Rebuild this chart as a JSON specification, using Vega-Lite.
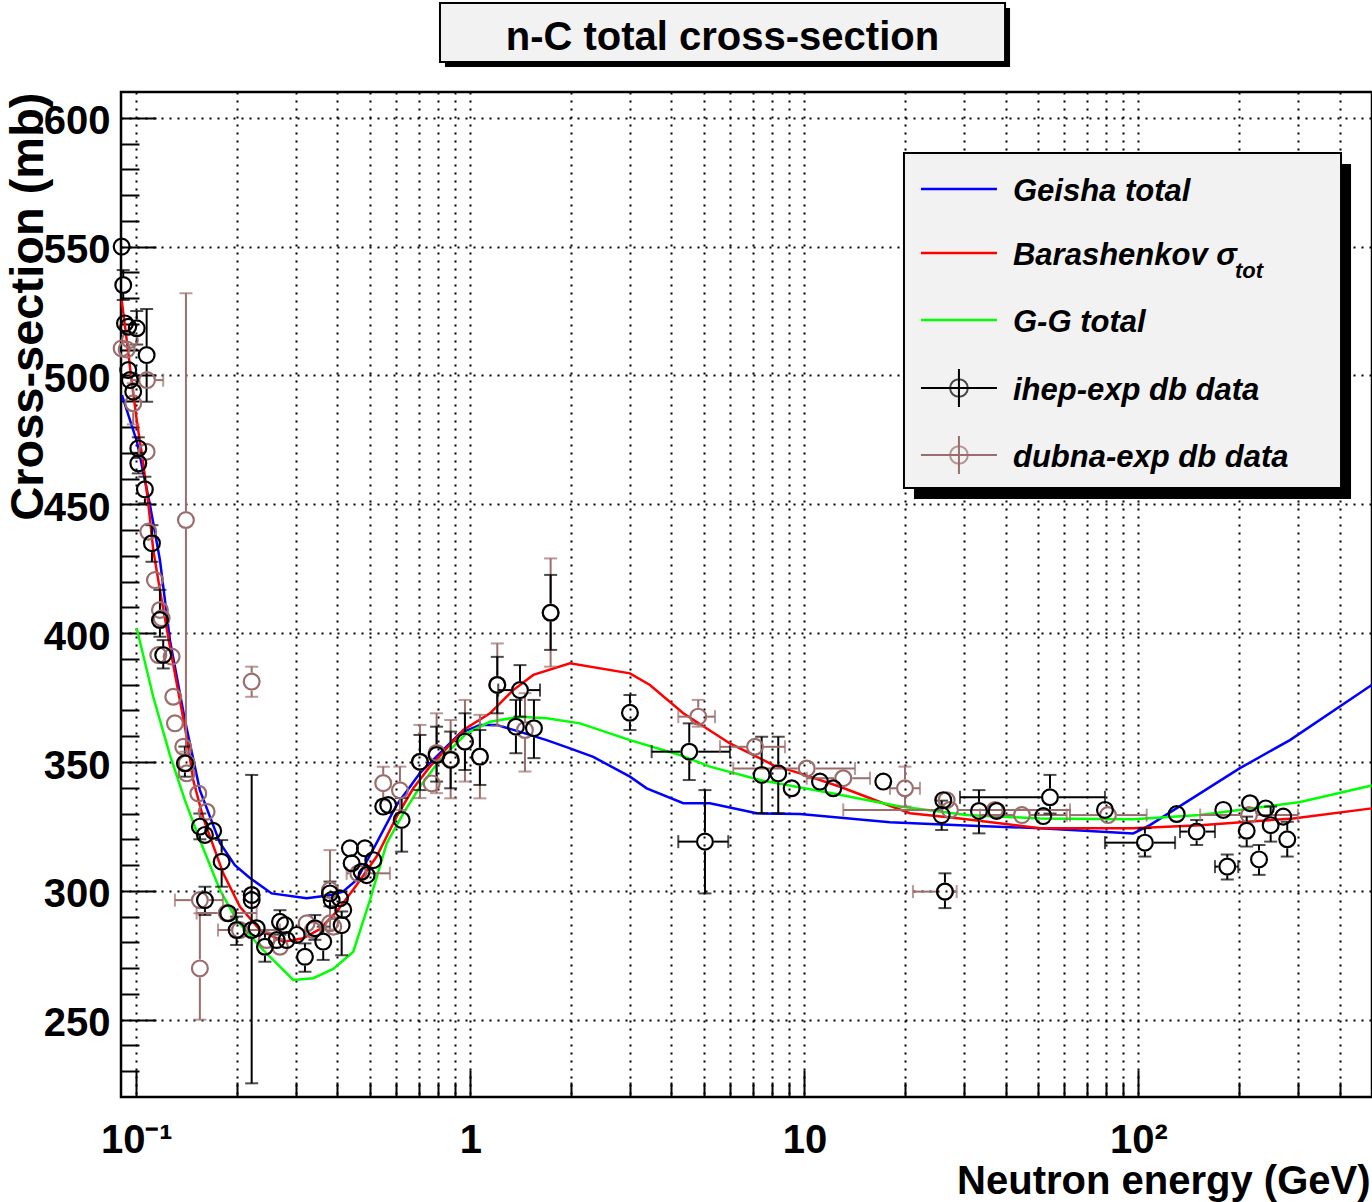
{
  "$schema": "https://vega.github.io/schema/vega-lite/v6.json",
  "width": 1251,
  "height": 1005,
  "autosize": {"type": "none"},
  "padding": {"left": 121, "top": 92, "right": 0, "bottom": 105},
  "background": "white",
  "config": {
    "font": "Liberation Sans",
    "view": {"stroke": "black", "strokeWidth": 2.5}
  },
  "datasets": {
    "d": [
      {"s":"Geisha total","e":0.0906,"v":492.4},{"s":"Geisha total","e":0.1005,"v":474.2},{"s":"Geisha total","e":0.1099,"v":449.7},{"s":"Geisha total","e":0.1177,"v":428.4},{"s":"Geisha total","e":0.1261,"v":397.3},{"s":"Geisha total","e":0.1398,"v":366.3},{"s":"Geisha total","e":0.155,"v":339.1},{"s":"Geisha total","e":0.178,"v":318.6},{"s":"Geisha total","e":0.1973,"v":310.0},{"s":"Geisha total","e":0.2188,"v":305.0},{"s":"Geisha total","e":0.2542,"v":299.0},{"s":"Geisha total","e":0.3236,"v":297.1},{"s":"Geisha total","e":0.3844,"v":298.4},{"s":"Geisha total","e":0.4155,"v":299.7},{"s":"Geisha total","e":0.4566,"v":304.2},{"s":"Geisha total","e":0.5241,"v":318.6},{"s":"Geisha total","e":0.6016,"v":333.3},{"s":"Geisha total","e":0.6596,"v":340.4},{"s":"Geisha total","e":0.7065,"v":345.7},{"s":"Geisha total","e":0.8109,"v":353.4},{"s":"Geisha total","e":0.9309,"v":361.1},{"s":"Geisha total","e":1.068,"v":364.4},{"s":"Geisha total","e":1.198,"v":364.4},{"s":"Geisha total","e":1.408,"v":361.7},{"s":"Geisha total","e":1.692,"v":358.5},{"s":"Geisha total","e":1.987,"v":355.3},{"s":"Geisha total","e":2.333,"v":352.0},{"s":"Geisha total","e":3.004,"v":344.3},{"s":"Geisha total","e":3.372,"v":339.8},{"s":"Geisha total","e":4.339,"v":334.0},{"s":"Geisha total","e":5.214,"v":334.0},{"s":"Geisha total","e":7.194,"v":330.1},{"s":"Geisha total","e":9.696,"v":329.8},{"s":"Geisha total","e":18.03,"v":326.6},{"s":"Geisha total","e":29.22,"v":325.5},{"s":"Geisha total","e":50.7,"v":324.3},{"s":"Geisha total","e":96.45,"v":322.3},{"s":"Geisha total","e":108.2,"v":325.5},{"s":"Geisha total","e":201.2,"v":347.6},{"s":"Geisha total","e":284.0,"v":358.5},{"s":"Geisha total","e":499,"v":379.9},
      {"s":"Barashenkov σₜₒₜ","e":0.0904,"v":529.3},{"s":"Barashenkov σₜₒₜ","e":0.0936,"v":513.8},{"s":"Barashenkov σₜₒₜ","e":0.0968,"v":498.2},{"s":"Barashenkov σₜₒₜ","e":0.1003,"v":482.7},{"s":"Barashenkov σₜₒₜ","e":0.1049,"v":465.9},{"s":"Barashenkov σₜₒₜ","e":0.1086,"v":450.4},{"s":"Barashenkov σₜₒₜ","e":0.1124,"v":432.3},{"s":"Barashenkov σₜₒₜ","e":0.1177,"v":416.7},{"s":"Barashenkov σₜₒₜ","e":0.1261,"v":394.7},{"s":"Barashenkov σₜₒₜ","e":0.1415,"v":359.8},{"s":"Barashenkov σₜₒₜ","e":0.1481,"v":343.0},{"s":"Barashenkov σₜₒₜ","e":0.1586,"v":328.3},{"s":"Barashenkov σₜₒₜ","e":0.1821,"v":306.8},{"s":"Barashenkov σₜₒₜ","e":0.2043,"v":293.8},{"s":"Barashenkov σₜₒₜ","e":0.2346,"v":284.8},{"s":"Barashenkov σₜₒₜ","e":0.2754,"v":280.3},{"s":"Barashenkov σₜₒₜ","e":0.3161,"v":281.6},{"s":"Barashenkov σₜₒₜ","e":0.3546,"v":285.2},{"s":"Barashenkov σₜₒₜ","e":0.3979,"v":291.9},{"s":"Barashenkov σₜₒₜ","e":0.4566,"v":302.3},{"s":"Barashenkov σₜₒₜ","e":0.5241,"v":313.3},{"s":"Barashenkov σₜₒₜ","e":0.6016,"v":328.8},{"s":"Barashenkov σₜₒₜ","e":0.6748,"v":339.8},{"s":"Barashenkov σₜₒₜ","e":0.7568,"v":348.2},{"s":"Barashenkov σₜₒₜ","e":0.9524,"v":362.4},{"s":"Barashenkov σₜₒₜ","e":1.145,"v":368.9},{"s":"Barashenkov σₜₒₜ","e":1.344,"v":377.9},{"s":"Barashenkov σₜₒₜ","e":1.543,"v":383.8},{"s":"Barashenkov σₜₒₜ","e":1.987,"v":388.3},{"s":"Barashenkov σₜₒₜ","e":3.004,"v":384.4},{"s":"Barashenkov σₜₒₜ","e":3.448,"v":379.9},{"s":"Barashenkov σₜₒₜ","e":4.339,"v":368.9},{"s":"Barashenkov σₜₒₜ","e":5.985,"v":357.2},{"s":"Barashenkov σₜₒₜ","e":8.067,"v":348.8},{"s":"Barashenkov σₜₒₜ","e":9.696,"v":345.6},{"s":"Barashenkov σₜₒₜ","e":12.78,"v":340.4},{"s":"Barashenkov σₜₒₜ","e":17.22,"v":334.0},{"s":"Barashenkov σₜₒₜ","e":20.7,"v":330.1},{"s":"Barashenkov σₜₒₜ","e":29.22,"v":328.1},{"s":"Barashenkov σₜₒₜ","e":50.7,"v":324.3},{"s":"Barashenkov σₜₒₜ","e":96.45,"v":324.3},{"s":"Barashenkov σₜₒₜ","e":153.0,"v":325.5},{"s":"Barashenkov σₜₒₜ","e":290.5,"v":328.1},{"s":"Barashenkov σₜₒₜ","e":499,"v":332.0},
      {"s":"G-G total","e":0.1003,"v":401.9},{"s":"G-G total","e":0.1124,"v":375.3},{"s":"G-G total","e":0.1261,"v":352.7},{"s":"G-G total","e":0.1398,"v":335.2},{"s":"G-G total","e":0.155,"v":319.7},{"s":"G-G total","e":0.178,"v":300.3},{"s":"G-G total","e":0.1997,"v":288.7},{"s":"G-G total","e":0.2346,"v":278.3},{"s":"G-G total","e":0.2951,"v":265.4},{"s":"G-G total","e":0.3386,"v":266.1},{"s":"G-G total","e":0.3887,"v":269.7},{"s":"G-G total","e":0.4462,"v":276.4},{"s":"G-G total","e":0.5005,"v":296.4},{"s":"G-G total","e":0.5616,"v":318.4},{"s":"G-G total","e":0.63,"v":330.1},{"s":"G-G total","e":0.7065,"v":340.4},{"s":"G-G total","e":0.8109,"v":350.8},{"s":"G-G total","e":0.9748,"v":361.1},{"s":"G-G total","e":1.145,"v":365.6},{"s":"G-G total","e":1.408,"v":367.6},{"s":"G-G total","e":1.692,"v":367.0},{"s":"G-G total","e":2.129,"v":365.0},{"s":"G-G total","e":3.004,"v":358.5},{"s":"G-G total","e":4.241,"v":352.7},{"s":"G-G total","e":5.214,"v":348.2},{"s":"G-G total","e":7.362,"v":343.0},{"s":"G-G total","e":12.2,"v":337.8},{"s":"G-G total","e":19.32,"v":332.7},{"s":"G-G total","e":30.59,"v":329.4},{"s":"G-G total","e":50.7,"v":328.1},{"s":"G-G total","e":96.45,"v":327.8},{"s":"G-G total","e":153.0,"v":329.4},{"s":"G-G total","e":305.0,"v":334.5},{"s":"G-G total","e":499,"v":340.9},
      {"s":"dubna-exp db data","e":0.0904,"v":510.5},{"s":"dubna-exp db data","e":0.0957,"v":513.8},{"s":"dubna-exp db data","e":0.0936,"v":510.1},{"s":"dubna-exp db data","e":0.1077,"v":498.2,"xlo":0.0968,"xhi":0.1204},{"s":"dubna-exp db data","e":0.0979,"v":489.2,"ylo":481,"yhi":497},{"s":"dubna-exp db data","e":0.1074,"v":470.4},{"s":"dubna-exp db data","e":0.1086,"v":439.4},{"s":"dubna-exp db data","e":0.1137,"v":420.6},{"s":"dubna-exp db data","e":0.1177,"v":409.0},{"s":"dubna-exp db data","e":0.1191,"v":405.8},{"s":"dubna-exp db data","e":0.1164,"v":391.5},{"s":"dubna-exp db data","e":0.1276,"v":390.9},{"s":"dubna-exp db data","e":0.129,"v":375.3},{"s":"dubna-exp db data","e":0.1305,"v":365.0},{"s":"dubna-exp db data","e":0.1382,"v":355.9},{"s":"dubna-exp db data","e":0.1415,"v":349.5},{"s":"dubna-exp db data","e":0.1415,"v":345.6},{"s":"dubna-exp db data","e":0.1408,"v":443.9,"ylo":354,"yhi":531.9},{"s":"dubna-exp db data","e":0.1624,"v":330.7},{"s":"dubna-exp db data","e":0.1533,"v":337.8},{"s":"dubna-exp db data","e":0.2215,"v":381.2,"ylo":375.3,"yhi":387},{"s":"dubna-exp db data","e":0.155,"v":269.9,"ylo":250,"yhi":291.3},{"s":"dubna-exp db data","e":0.155,"v":296.4,"xlo":0.1305,"xhi":0.1817},{"s":"dubna-exp db data","e":0.1865,"v":291.4,"xlo":0.1516,"xhi":0.2293},{"s":"dubna-exp db data","e":0.2043,"v":284.8,"xlo":0.1756,"xhi":0.2692},{"s":"dubna-exp db data","e":0.2456,"v":280.9},{"s":"dubna-exp db data","e":0.2692,"v":278.3},{"s":"dubna-exp db data","e":0.3236,"v":287.4},{"s":"dubna-exp db data","e":0.3379,"v":284.8},{"s":"dubna-exp db data","e":0.38,"v":287.4},{"s":"dubna-exp db data","e":0.38,"v":300.3,"ylo":285,"yhi":315.8},{"s":"dubna-exp db data","e":0.3887,"v":286.1},{"s":"dubna-exp db data","e":0.4618,"v":306.8,"xlo":0.4262,"xhi":0.5744},{"s":"dubna-exp db data","e":0.6155,"v":339.0,"ylo":331.4,"yhi":348.2},{"s":"dubna-exp db data","e":0.5485,"v":341.8,"ylo":335.2,"yhi":348.2},{"s":"dubna-exp db data","e":0.7925,"v":353.5,"ylo":337.9,"yhi":368.9},{"s":"dubna-exp db data","e":0.7661,"v":341.7},{"s":"dubna-exp db data","e":0.7065,"v":350,"ylo":336,"yhi":364.4},{"s":"dubna-exp db data","e":0.873,"v":351.1,"ylo":335.9,"yhi":366.3},{"s":"dubna-exp db data","e":0.9634,"v":358,"ylo":342.4,"yhi":374.1},{"s":"dubna-exp db data","e":1.068,"v":352,"ylo":335.9,"yhi":368.3},{"s":"dubna-exp db data","e":1.204,"v":380,"ylo":364,"yhi":396},{"s":"dubna-exp db data","e":1.457,"v":362.4,"ylo":346.3,"yhi":376.7},{"s":"dubna-exp db data","e":1.739,"v":408,"ylo":387,"yhi":429},{"s":"dubna-exp db data","e":4.81,"v":367.6,"ylo":363.7,"yhi":374.1,"xlo":4.192,"xhi":5.398},{"s":"dubna-exp db data","e":7.11,"v":355.9,"xlo":5.587,"xhi":8.744},{"s":"dubna-exp db data","e":10.16,"v":347.5,"xlo":6.124,"xhi":14.17},{"s":"dubna-exp db data","e":13.07,"v":343.7,"xlo":10.16,"xhi":15.71},{"s":"dubna-exp db data","e":20.0,"v":339.8,"ylo":332.7,"yhi":348.2,"xlo":18.03,"xhi":22.17},{"s":"dubna-exp db data","e":27.27,"v":331.4,"xlo":13.07,"xhi":62.36},{"s":"dubna-exp db data","e":26.65,"v":335.2},{"s":"dubna-exp db data","e":37.18,"v":331.4},{"s":"dubna-exp db data","e":44.79,"v":329.4,"xlo":33.53,"xhi":60.95},{"s":"dubna-exp db data","e":81.02,"v":329.4,"xlo":62.36,"xhi":105.8},{"s":"dubna-exp db data","e":214.2,"v":329.4,"xlo":153,"xhi":300.1},{"s":"dubna-exp db data","e":26.34,"v":299.7,"xlo":21.13,"xhi":28.56},
      {"s":"ihep-exp db data","e":0.0904,"v":550},{"s":"ihep-exp db data","e":0.0914,"v":535.1,"ylo":529.3,"yhi":540.9},{"s":"ihep-exp db data","e":0.0925,"v":520.2},{"s":"ihep-exp db data","e":0.0946,"v":518.9},{"s":"ihep-exp db data","e":0.1003,"v":518.3,"ylo":512,"yhi":525},{"s":"ihep-exp db data","e":0.1074,"v":507.9,"ylo":489.8,"yhi":525.8},{"s":"ihep-exp db data","e":0.0946,"v":502.1},{"s":"ihep-exp db data","e":0.0957,"v":498.2},{"s":"ihep-exp db data","e":0.0979,"v":493.7},{"s":"ihep-exp db data","e":0.1014,"v":471.7,"ylo":468,"yhi":476},{"s":"ihep-exp db data","e":0.1014,"v":465.9,"ylo":462,"yhi":470},{"s":"ihep-exp db data","e":0.1061,"v":455.8,"ylo":450.4,"yhi":460.7},{"s":"ihep-exp db data","e":0.1114,"v":434.9,"ylo":427.7,"yhi":441.9},{"s":"ihep-exp db data","e":0.1177,"v":405.1,"ylo":398.6,"yhi":416.8},{"s":"ihep-exp db data","e":0.1204,"v":391.5,"ylo":386.3,"yhi":397.3},{"s":"ihep-exp db data","e":0.1398,"v":349.5,"ylo":344.3,"yhi":356},{"s":"ihep-exp db data","e":0.155,"v":324.9,"ylo":320,"yhi":330},{"s":"ihep-exp db data","e":0.1605,"v":321.7},{"s":"ihep-exp db data","e":0.1699,"v":323.3},{"s":"ihep-exp db data","e":0.1801,"v":311.3,"ylo":301.6,"yhi":319.7},{"s":"ihep-exp db data","e":0.1605,"v":296.4,"ylo":290.6,"yhi":301.6},{"s":"ihep-exp db data","e":0.2215,"v":296.4},{"s":"ihep-exp db data","e":0.2215,"v":298.4},{"s":"ihep-exp db data","e":0.2215,"v":284.8,"ylo":225.3,"yhi":345},{"s":"ihep-exp db data","e":0.1885,"v":291.3},{"s":"ihep-exp db data","e":0.1997,"v":284.8,"ylo":279,"yhi":290},{"s":"ihep-exp db data","e":0.2427,"v":278.3,"ylo":272.5,"yhi":283.5},{"s":"ihep-exp db data","e":0.2293,"v":285.5},{"s":"ihep-exp db data","e":0.2692,"v":288.0,"ylo":283,"yhi":292.5},{"s":"ihep-exp db data","e":0.2787,"v":286.7},{"s":"ihep-exp db data","e":0.2632,"v":280.9},{"s":"ihep-exp db data","e":0.2819,"v":280.9},{"s":"ihep-exp db data","e":0.302,"v":282.9},{"s":"ihep-exp db data","e":0.3198,"v":274.4,"ylo":268.6,"yhi":279.6},{"s":"ihep-exp db data","e":0.3425,"v":285.5,"ylo":281,"yhi":290.6},{"s":"ihep-exp db data","e":0.3627,"v":280.3,"ylo":273.2,"yhi":286.1},{"s":"ihep-exp db data","e":0.38,"v":299.0,"ylo":294,"yhi":303.6},{"s":"ihep-exp db data","e":0.3844,"v":296.4},{"s":"ihep-exp db data","e":0.4071,"v":297.1},{"s":"ihep-exp db data","e":0.4164,"v":292.6},{"s":"ihep-exp db data","e":0.4119,"v":286.7,"ylo":275,"yhi":292},{"s":"ihep-exp db data","e":0.436,"v":316.5},{"s":"ihep-exp db data","e":0.4412,"v":310.7},{"s":"ihep-exp db data","e":0.4836,"v":316.5},{"s":"ihep-exp db data","e":0.4726,"v":307.4},{"s":"ihep-exp db data","e":0.4893,"v":306.1},{"s":"ihep-exp db data","e":0.5121,"v":311.9},{"s":"ihep-exp db data","e":0.5485,"v":332.7},{"s":"ihep-exp db data","e":0.5676,"v":333.3},{"s":"ihep-exp db data","e":0.6228,"v":327.5,"ylo":315.2,"yhi":336},{"s":"ihep-exp db data","e":0.7065,"v":350.1,"ylo":339.1,"yhi":360.5},{"s":"ihep-exp db data","e":0.7925,"v":352.7,"ylo":342.4,"yhi":363.7},{"s":"ihep-exp db data","e":0.873,"v":350.8,"ylo":339.8,"yhi":361.8},{"s":"ihep-exp db data","e":0.9634,"v":357.9,"ylo":346.9,"yhi":368.9},{"s":"ihep-exp db data","e":1.068,"v":352.1,"ylo":341.1,"yhi":362.4},{"s":"ihep-exp db data","e":1.204,"v":379.9,"ylo":368.9,"yhi":390.8},{"s":"ihep-exp db data","e":1.408,"v":377.9,"ylo":367.6,"yhi":387.6,"xlo":1.212,"xhi":1.616},{"s":"ihep-exp db data","e":1.369,"v":363.7,"ylo":353.4,"yhi":374.1},{"s":"ihep-exp db data","e":1.55,"v":363.1,"ylo":351.5,"yhi":374.1},{"s":"ihep-exp db data","e":1.739,"v":407.9,"ylo":393.5,"yhi":422.6},{"s":"ihep-exp db data","e":3.004,"v":369.1,"ylo":362.4,"yhi":376},{"s":"ihep-exp db data","e":4.521,"v":354.0,"ylo":343,"yhi":365,"xlo":3.489,"xhi":5.985},{"s":"ihep-exp db data","e":5.038,"v":319.1,"ylo":299,"yhi":339.1,"xlo":4.192,"xhi":5.916},{"s":"ihep-exp db data","e":7.447,"v":345.0,"ylo":330.1,"yhi":359.8},{"s":"ihep-exp db data","e":8.35,"v":345.6,"ylo":330.1,"yhi":359.8},{"s":"ihep-exp db data","e":9.159,"v":339.8},{"s":"ihep-exp db data","e":11.13,"v":342.4},{"s":"ihep-exp db data","e":12.2,"v":339.8},{"s":"ihep-exp db data","e":17.22,"v":342.4},{"s":"ihep-exp db data","e":26.04,"v":335.2},{"s":"ihep-exp db data","e":25.75,"v":329.4,"ylo":323.6,"yhi":335},{"s":"ihep-exp db data","e":26.34,"v":299.7,"ylo":293.3,"yhi":306.8},{"s":"ihep-exp db data","e":33.3,"v":331.0,"ylo":322.3,"yhi":339.1},{"s":"ihep-exp db data","e":37.62,"v":331.0},{"s":"ihep-exp db data","e":54.33,"v":336.3,"ylo":330,"yhi":345,"xlo":29.22,"xhi":79.36},{"s":"ihep-exp db data","e":51.87,"v":329.0},{"s":"ihep-exp db data","e":79.36,"v":331.4},{"s":"ihep-exp db data","e":104.5,"v":318.7,"ylo":313.3,"yhi":324.3,"xlo":79.36,"xhi":128.7},{"s":"ihep-exp db data","e":130.1,"v":329.8},{"s":"ihep-exp db data","e":149.3,"v":323.0,"ylo":317.8,"yhi":327.5,"xlo":133.1,"xhi":169.4},{"s":"ihep-exp db data","e":179.4,"v":331.4},{"s":"ihep-exp db data","e":184.4,"v":309.4,"ylo":304.4,"yhi":314.1,"xlo":169.4,"xhi":198.9},{"s":"ihep-exp db data","e":210.8,"v":323.3,"ylo":317.2,"yhi":328.8},{"s":"ihep-exp db data","e":215.7,"v":334.0},{"s":"ihep-exp db data","e":229.5,"v":312.2,"ylo":306.2,"yhi":317.8},{"s":"ihep-exp db data","e":240.3,"v":332.0},{"s":"ihep-exp db data","e":248.7,"v":325.5,"ylo":319.1,"yhi":332.7},{"s":"ihep-exp db data","e":271.3,"v":328.8},{"s":"ihep-exp db data","e":278.8,"v":320.0,"ylo":313.3,"yhi":326.8}
    ]
  },
  "data": {"name": "d"},
  "resolve": {"axis": {"x": "independent", "y": "independent"}},
  "layer": [
    {
      "data": {"values": [{}]},
      "mark": {"type": "rect", "fill": "black", "xOffset": 10, "x2Offset": 10, "yOffset": 11, "y2Offset": 11},
      "encoding": {
        "x": {"datum": 19.86, "type": "quantitative", "scale": {"type": "log", "domain": [0.09, 500], "nice": false}, "axis": null},
        "x2": {"datum": 403.9},
        "y": {"datum": 586.3, "type": "quantitative", "scale": {"domain": [220, 610], "nice": false, "zero": false}, "axis": null},
        "y2": {"datum": 456.3}
      }
    },
    {
      "data": {"values": [{}]},
      "mark": {"type": "rect", "fill": "#f2f2f2", "stroke": "black", "strokeWidth": 2},
      "encoding": {
        "x": {"datum": 19.86, "type": "quantitative", "axis": null},
        "x2": {"datum": 403.9},
        "y": {"datum": 586.3, "type": "quantitative", "axis": null},
        "y2": {"datum": 456.3}
      }
    },
    {
      "data": {"values": [{}]},
      "mark": {"type": "rect", "fill": "black", "xOffset": 5, "x2Offset": 5, "yOffset": 5, "y2Offset": 5},
      "encoding": {
        "x": {"datum": 0.8111, "type": "quantitative", "axis": null},
        "x2": {"datum": 39.86},
        "y": {"datum": 644.5, "type": "quantitative", "axis": null},
        "y2": {"datum": 621.6}
      }
    },
    {
      "data": {"values": [{}]},
      "mark": {"type": "rect", "fill": "#f2f2f2", "stroke": "black", "strokeWidth": 2},
      "encoding": {
        "x": {"datum": 0.8111, "type": "quantitative", "axis": null},
        "x2": {"datum": 39.86},
        "y": {"datum": 644.5, "type": "quantitative", "axis": null},
        "y2": {"datum": 621.6}
      }
    },
    {
      "data": {"values": [{}]},
      "mark": {"type": "text", "text": "n-C total cross-section", "font": "Liberation Sans", "fontSize": 40, "fontWeight": "bold", "align": "center", "baseline": "alphabetic", "color": "black"},
      "encoding": {
        "x": {"datum": 5.684, "type": "quantitative", "axis": null},
        "y": {"datum": 626.3, "type": "quantitative", "axis": null}
      }
    },
    {
      "data": {"values": [{}]},
      "mark": {"type": "rule", "color": "#0000ff", "strokeWidth": 2.5},
      "encoding": {
        "x": {"datum": 22.33, "type": "quantitative", "axis": null},
        "x2": {"datum": 37.70},
        "y": {"datum": 572.36, "type": "quantitative", "axis": null}
      }
    },
    {
      "data": {"values": [{}]},
      "mark": {"type": "rule", "color": "#ff0000", "strokeWidth": 2.5},
      "encoding": {
        "x": {"datum": 22.33, "type": "quantitative", "axis": null},
        "x2": {"datum": 37.70},
        "y": {"datum": 547.52, "type": "quantitative", "axis": null}
      }
    },
    {
      "data": {"values": [{}]},
      "mark": {"type": "rule", "color": "#00ff00", "strokeWidth": 2.5},
      "encoding": {
        "x": {"datum": 22.33, "type": "quantitative", "axis": null},
        "x2": {"datum": 37.70},
        "y": {"datum": 521.52, "type": "quantitative", "axis": null}
      }
    },
    {
      "data": {"values": [{}]},
      "mark": {"type": "rule", "color": "#000000", "strokeWidth": 2},
      "encoding": {
        "x": {"datum": 22.33, "type": "quantitative", "axis": null},
        "x2": {"datum": 37.70},
        "y": {"datum": 495.13, "type": "quantitative", "axis": null}
      }
    },
    {
      "data": {"values": [{}]},
      "mark": {"type": "rule", "color": "#000000", "strokeWidth": 2},
      "encoding": {
        "x": {"datum": 29.01, "type": "quantitative", "axis": null},
        "y": {"datum": 502.5, "type": "quantitative", "axis": null},
        "y2": {"datum": 487.76}
      }
    },
    {
      "data": {"values": [{}]},
      "mark": {"type": "point", "shape": "circle", "filled": false, "color": "#000000", "strokeWidth": 2, "size": 314},
      "encoding": {
        "x": {"datum": 29.01, "type": "quantitative", "axis": null},
        "y": {"datum": 495.13, "type": "quantitative", "axis": null}
      }
    },
    {
      "data": {"values": [{}]},
      "mark": {"type": "rule", "color": "#9b6d6d", "strokeWidth": 2},
      "encoding": {
        "x": {"datum": 22.33, "type": "quantitative", "axis": null},
        "x2": {"datum": 37.70},
        "y": {"datum": 469.13, "type": "quantitative", "axis": null}
      }
    },
    {
      "data": {"values": [{}]},
      "mark": {"type": "rule", "color": "#9b6d6d", "strokeWidth": 2},
      "encoding": {
        "x": {"datum": 29.01, "type": "quantitative", "axis": null},
        "y": {"datum": 476.5, "type": "quantitative", "axis": null},
        "y2": {"datum": 461.76}
      }
    },
    {
      "data": {"values": [{}]},
      "mark": {"type": "point", "shape": "circle", "filled": false, "color": "#9b6d6d", "strokeWidth": 2, "size": 314},
      "encoding": {
        "x": {"datum": 29.01, "type": "quantitative", "axis": null},
        "y": {"datum": 469.13, "type": "quantitative", "axis": null}
      }
    },
    {
      "data": {"values": [{}]},
      "mark": {"type": "text", "text": "Geisha total", "font": "Liberation Sans", "fontStyle": "italic", "fontWeight": "bold", "fontSize": 31, "align": "left", "baseline": "middle", "dy": 3, "color": "black"},
      "encoding": {
        "x": {"datum": 42.10, "type": "quantitative", "axis": null},
        "y": {"datum": 572.36, "type": "quantitative", "axis": null}
      }
    },
    {
      "data": {"values": [{}]},
      "mark": {"type": "text", "text": "Barashenkov σ", "font": "Liberation Sans", "fontStyle": "italic", "fontWeight": "bold", "fontSize": 31, "align": "left", "baseline": "middle", "dy": 3, "color": "black"},
      "encoding": {
        "x": {"datum": 42.10, "type": "quantitative", "axis": null},
        "y": {"datum": 547.52, "type": "quantitative", "axis": null}
      }
    },
    {
      "data": {"values": [{}]},
      "mark": {"type": "text", "text": "tot", "font": "Liberation Sans", "fontStyle": "italic", "fontWeight": "bold", "fontSize": 22, "align": "left", "baseline": "alphabetic", "dy": 25, "color": "black"},
      "encoding": {
        "x": {"datum": 194.4, "type": "quantitative", "axis": null},
        "y": {"datum": 547.52, "type": "quantitative", "axis": null}
      }
    },
    {
      "data": {"values": [{}]},
      "mark": {"type": "text", "text": "G-G total", "font": "Liberation Sans", "fontStyle": "italic", "fontWeight": "bold", "fontSize": 31, "align": "left", "baseline": "middle", "dy": 3, "color": "black"},
      "encoding": {
        "x": {"datum": 42.10, "type": "quantitative", "axis": null},
        "y": {"datum": 521.52, "type": "quantitative", "axis": null}
      }
    },
    {
      "data": {"values": [{}]},
      "mark": {"type": "text", "text": "ihep-exp db data", "font": "Liberation Sans", "fontStyle": "italic", "fontWeight": "bold", "fontSize": 31, "align": "left", "baseline": "middle", "dy": 3, "color": "black"},
      "encoding": {
        "x": {"datum": 42.10, "type": "quantitative", "axis": null},
        "y": {"datum": 495.13, "type": "quantitative", "axis": null}
      }
    },
    {
      "data": {"values": [{}]},
      "mark": {"type": "text", "text": "dubna-exp db data", "font": "Liberation Sans", "fontStyle": "italic", "fontWeight": "bold", "fontSize": 31, "align": "left", "baseline": "middle", "dy": 3, "color": "black"},
      "encoding": {
        "x": {"datum": 42.10, "type": "quantitative", "axis": null},
        "y": {"datum": 469.13, "type": "quantitative", "axis": null}
      }
    },
    {
      "transform": [{"filter": "datum.s == 'Geisha total'"}],
      "mark": {"type": "line", "strokeWidth": 2.5},
      "encoding": {
        "x": {"field": "e", "type": "quantitative",
          "axis": {"orient": "bottom", "values": [0.1, 1, 10, 100],
            "labelExpr": "datum.value < 0.5 ? '10⁻¹' : datum.value < 5 ? '1' : datum.value < 50 ? '10' : '10²'",
            "grid": true, "gridColor": "black", "gridDash": [2, 6], "gridWidth": 2, "gridOpacity": 1,
            "domain": false, "ticks": true, "tickSize": -27, "tickWidth": 2, "tickColor": "black",
            "labelFont": "Liberation Sans", "labelFontWeight": "bold", "labelFontSize": 40, "labelColor": "black",
            "labelPadding": 50, "labelBaseline": "top", "labelAlign": "center", "labelFlush": false, "labelOverlap": false, "labelBound": false,
            "title": "Neutron energy (GeV)", "titleFont": "Liberation Sans", "titleFontWeight": "bold", "titleFontSize": 40, "titleColor": "black",
            "titleAnchor": "end", "titleAlign": "right", "titleBaseline": "alphabetic", "titleX": 1249, "titleY": 96}},
        "y": {"field": "v", "type": "quantitative",
          "axis": {"orient": "left", "values": [250, 300, 350, 400, 450, 500, 550, 600],
            "grid": true, "gridColor": "black", "gridDash": [2, 6], "gridWidth": 2, "gridOpacity": 1,
            "domain": false, "ticks": true, "tickSize": -35, "tickWidth": 2, "tickColor": "black",
            "labelFont": "Liberation Sans", "labelFontWeight": "bold", "labelFontSize": 40, "labelColor": "black",
            "labelPadding": 46, "labelOffset": 4, "labelAlign": "right", "labelBaseline": "middle", "labelFlush": false, "labelOverlap": false, "labelBound": false,
            "title": "Cross-section (mb)", "titleFont": "Liberation Sans", "titleFontWeight": "bold", "titleFontSize": 47, "titleColor": "black",
            "titleAngle": -90, "titleAlign": "right", "titleBaseline": "top", "titleX": -116, "titleY": 0}},
        "color": {"field": "s", "type": "nominal", "scale": {"domain": ["Geisha total", "Barashenkov σₜₒₜ", "G-G total", "ihep-exp db data", "dubna-exp db data"], "range": ["#0000ff", "#ff0000", "#00ff00", "#000000", "#9b6d6d"]}, "legend": null}
      }
    },
    {
      "transform": [{"filter": "datum.s == 'Barashenkov σₜₒₜ'"}],
      "mark": {"type": "line", "strokeWidth": 2.5},
      "encoding": {
        "x": {"field": "e", "type": "quantitative",
          "axis": {"orient": "bottom", "values": [0.2, 0.3, 0.4, 0.5, 0.6, 0.7, 0.8, 0.9, 2, 3, 4, 5, 6, 7, 8, 9, 20, 30, 40, 50, 60, 70, 80, 90, 200, 300, 400, 500],
            "grid": true, "gridColor": "black", "gridDash": [2, 6], "gridWidth": 2, "gridOpacity": 1,
            "domain": false, "ticks": true, "tickSize": -15, "tickWidth": 2, "tickColor": "black", "labels": false, "title": null}},
        "y": {"field": "v", "type": "quantitative",
          "axis": {"orient": "left", "values": [230, 240, 260, 270, 280, 290, 310, 320, 330, 340, 360, 370, 380, 390, 410, 420, 430, 440, 460, 470, 480, 490, 510, 520, 530, 540, 560, 570, 580, 590],
            "grid": false, "domain": false, "ticks": true, "tickSize": -18, "tickWidth": 2, "tickColor": "black", "labels": false, "title": null}},
        "color": {"field": "s", "type": "nominal", "legend": null}
      }
    },
    {
      "transform": [{"filter": "datum.s == 'G-G total'"}],
      "mark": {"type": "line", "strokeWidth": 2.5},
      "encoding": {
        "x": {"field": "e", "type": "quantitative", "axis": null},
        "y": {"field": "v", "type": "quantitative", "axis": null},
        "color": {"field": "s", "type": "nominal", "legend": null}
      }
    },
    {
      "transform": [{"filter": "isValid(datum.yhi) && datum.yhi - datum.v > 3.5"}],
      "mark": {"type": "rule", "strokeWidth": 2, "y2Offset": -9},
      "encoding": {
        "x": {"field": "e", "type": "quantitative", "axis": null},
        "y": {"field": "yhi", "type": "quantitative", "axis": null},
        "y2": {"field": "v"},
        "color": {"field": "s", "type": "nominal", "legend": null}
      }
    },
    {
      "transform": [{"filter": "isValid(datum.ylo) && datum.v - datum.ylo > 3.5"}],
      "mark": {"type": "rule", "strokeWidth": 2, "y2Offset": 9},
      "encoding": {
        "x": {"field": "e", "type": "quantitative", "axis": null},
        "y": {"field": "ylo", "type": "quantitative", "axis": null},
        "y2": {"field": "v"},
        "color": {"field": "s", "type": "nominal", "legend": null}
      }
    },
    {
      "transform": [{"filter": "isValid(datum.xlo) && datum.e / datum.xlo > 1.065"}],
      "mark": {"type": "rule", "strokeWidth": 2, "x2Offset": -9},
      "encoding": {
        "x": {"field": "xlo", "type": "quantitative", "axis": null},
        "x2": {"field": "e"},
        "y": {"field": "v", "type": "quantitative", "axis": null},
        "color": {"field": "s", "type": "nominal", "legend": null}
      }
    },
    {
      "transform": [{"filter": "isValid(datum.xhi) && datum.xhi / datum.e > 1.065"}],
      "mark": {"type": "rule", "strokeWidth": 2, "xOffset": 9},
      "encoding": {
        "x": {"field": "e", "type": "quantitative", "axis": null},
        "x2": {"field": "xhi"},
        "y": {"field": "v", "type": "quantitative", "axis": null},
        "color": {"field": "s", "type": "nominal", "legend": null}
      }
    },
    {
      "transform": [{"filter": "isValid(datum.yhi) && datum.yhi - datum.v > 3.5"}],
      "mark": {"type": "tick", "orient": "horizontal", "size": 13, "thickness": 2},
      "encoding": {
        "x": {"field": "e", "type": "quantitative", "axis": null},
        "y": {"field": "yhi", "type": "quantitative", "axis": null},
        "color": {"field": "s", "type": "nominal", "legend": null}
      }
    },
    {
      "transform": [{"filter": "isValid(datum.ylo) && datum.v - datum.ylo > 3.5"}],
      "mark": {"type": "tick", "orient": "horizontal", "size": 13, "thickness": 2},
      "encoding": {
        "x": {"field": "e", "type": "quantitative", "axis": null},
        "y": {"field": "ylo", "type": "quantitative", "axis": null},
        "color": {"field": "s", "type": "nominal", "legend": null}
      }
    },
    {
      "transform": [{"filter": "isValid(datum.xlo) && datum.e / datum.xlo > 1.065"}],
      "mark": {"type": "tick", "orient": "vertical", "size": 13, "thickness": 2},
      "encoding": {
        "x": {"field": "xlo", "type": "quantitative", "axis": null},
        "y": {"field": "v", "type": "quantitative", "axis": null},
        "color": {"field": "s", "type": "nominal", "legend": null}
      }
    },
    {
      "transform": [{"filter": "isValid(datum.xhi) && datum.xhi / datum.e > 1.065"}],
      "mark": {"type": "tick", "orient": "vertical", "size": 13, "thickness": 2},
      "encoding": {
        "x": {"field": "xhi", "type": "quantitative", "axis": null},
        "y": {"field": "v", "type": "quantitative", "axis": null},
        "color": {"field": "s", "type": "nominal", "legend": null}
      }
    },
    {
      "transform": [{"filter": "datum.s == 'ihep-exp db data' || datum.s == 'dubna-exp db data'"}],
      "mark": {"type": "point", "shape": "circle", "filled": false, "strokeWidth": 2.2, "size": 250, "opacity": 1},
      "encoding": {
        "x": {"field": "e", "type": "quantitative", "axis": null},
        "y": {"field": "v", "type": "quantitative", "axis": null},
        "color": {"field": "s", "type": "nominal", "legend": null}
      }
    }
  ]
}
